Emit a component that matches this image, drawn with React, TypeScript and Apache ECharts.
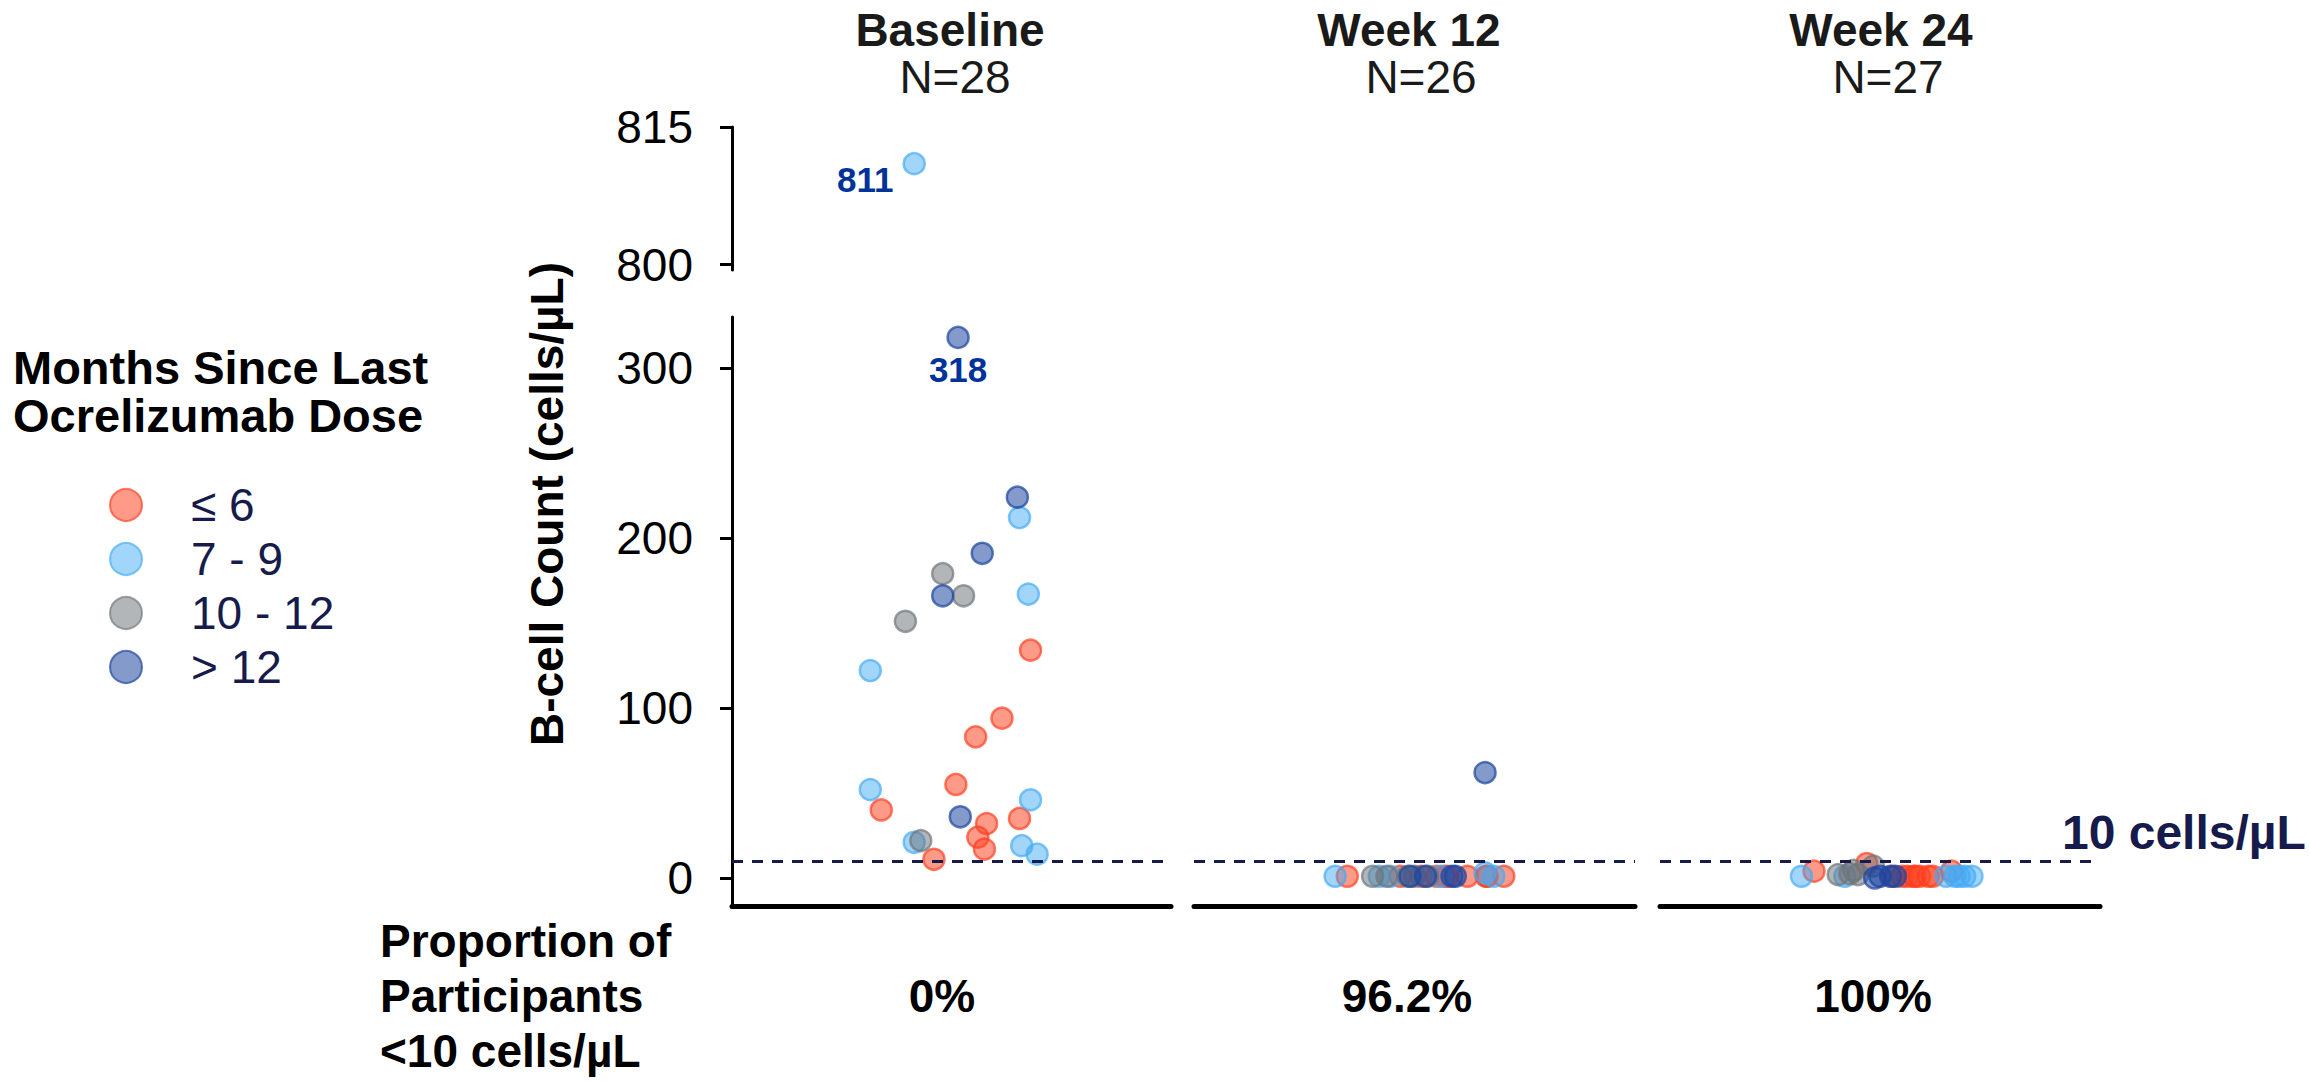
import React, { useEffect, useRef } from "react";
import * as echarts from "echarts";

// ---------- data ----------
const groupNames = ["≤ 6", "7 - 9", "10 - 12", "> 12"];
const timepoints = ["Baseline", "Week 12", "Week 24"];
const sampleSizes = ["N=28", "N=26", "N=27"];
const proportionsBelow10 = ["0%", "96.2%", "100%"];
const lowerTicks = [0, 100, 200, 300];
const upperTicks = [800, 815];
const thresholdValue = 10;
const labelledOutliers = [811, 318];

// [jitter within column, B-cell count, group index]
const baselinePoints: number[][] = [
  [-0.17, 811, 1], [0.03, 318, 3], [0.3, 224, 3], [0.31, 212, 1],
  [0.14, 191, 3], [-0.04, 179, 2], [-0.04, 166, 3], [0.055, 166, 2],
  [0.35, 167, 1], [-0.21, 151, 2], [0.36, 134, 0], [-0.37, 122, 1],
  [0.23, 94, 0], [0.11, 83, 0], [0.02, 55, 0], [-0.37, 52, 1],
  [0.36, 46, 1], [-0.32, 40, 0], [0.04, 36, 3], [0.16, 32, 0],
  [0.31, 35, 0], [0.12, 24, 0], [-0.17, 21, 1], [-0.14, 22, 2],
  [0.15, 17, 0], [0.32, 19, 1], [0.39, 14, 1], [-0.08, 11, 0],
];
const week12Points: number[][] = [
  [-0.36, 1, 1], [-0.305, 1, 0], [-0.19, 1, 2], [-0.16, 1, 1],
  [-0.125, 1, 2], [-0.11, 1, 1], [-0.065, 1, 0], [-0.03, 1, 2],
  [-0.02, 1, 3], [0.0, 1, 2], [0.03, 1, 0], [0.05, 1, 3],
  [0.06, 1, 2], [0.1, 1, 0], [0.12, 1, 1], [0.135, 1, 0],
  [0.15, 1, 0], [0.17, 1, 3], [0.185, 1, 3], [0.24, 1, 0],
  [0.32, 3, 1], [0.325, 1, 0], [0.33, 1, 0], [0.36, 1, 1],
  [0.405, 1, 0], [0.32, 62, 3],
];
const week24Points: number[][] = [
  [-0.357, 1, 1], [-0.3, 4, 0], [-0.19, 2, 2], [-0.16, 1, 1],
  [-0.137, 2.5, 2], [-0.12, 4.5, 2], [-0.1, 2, 2], [-0.06, 8.5, 0],
  [-0.03, 7, 2], [-0.024, 0, 3], [0.0, 1, 3], [0.048, 1, 3],
  [0.057, 1, 0], [0.07, 1, 3], [0.1, 1, 0], [0.125, 1, 0],
  [0.153, 1, 0], [0.16, 1, 0], [0.18, 1, 0], [0.22, 1, 0],
  [0.24, 1, 0], [0.3, 1, 1], [0.325, 4, 0], [0.34, 1, 1],
  [0.36, 1, 1], [0.385, 1, 1], [0.418, 1, 1],
];

// ---------- styles ----------
const FONT = "Liberation Sans, Arial, Helvetica, sans-serif";
const groupFill = [
  "rgba(255,69,38,0.68)",
  "rgba(66,170,245,0.62)",
  "rgba(110,117,122,0.66)",
  "rgba(30,70,160,0.68)",
];
const groupBorder = [
  "rgba(255,60,30,0.85)",
  "rgba(66,170,245,0.85)",
  "rgba(110,117,122,0.85)",
  "rgba(30,70,160,0.9)",
];
const NAVY = "#161b4c";
const LABEL_BLUE = "#00339a";

const panelGrids = [
  { left: 732, top: 127, width: 439, height: 143 },
  { left: 732, top: 317, width: 439, height: 589 },
  { left: 1194, top: 317, width: 441, height: 589 },
  { left: 1660, top: 317, width: 440, height: 589 },
];
const panelData = [
  { points: baselinePoints, keep: (v: number) => v >= 799 },
  { points: baselinePoints, keep: (v: number) => v < 330 },
  { points: week12Points, keep: (_v: number) => true },
  { points: week24Points, keep: (_v: number) => true },
];
const titleCenters = [950, 1409, 1881];
const nCenters = [955, 1421, 1888];
const pctCenters = [942, 1407, 1873];

function buildOption() {
  const series: any[] = [];
  panelData.forEach((panel, p) => {
    groupNames.forEach((name, k) => {
      const data = panel.points
        .filter((pt) => pt[2] === k && panel.keep(pt[1]))
        .map((pt) => {
          const item: any = { value: [pt[0], pt[1]] };
          if (labelledOutliers.includes(pt[1])) {
            const isLeft = pt[1] === labelledOutliers[0];
            item.label = {
              show: true,
              formatter: String(pt[1]),
              position: isLeft ? "left" : "bottom",
              distance: isLeft ? 9 : 3,
              offset: isLeft ? [0, 16] : [0, 0],
              color: LABEL_BLUE,
              opacity: 1,
              fontWeight: "bold",
              fontSize: 35,
              fontFamily: FONT,
            };
          }
          return item;
        });
      series.push({
        type: "scatter",
        name,
        xAxisIndex: p,
        yAxisIndex: p,
        symbol: "circle",
        symbolSize: 21,
        itemStyle: { color: groupFill[k], borderColor: groupBorder[k], borderWidth: 2.5 },
        emphasis: { disabled: true },
        data,
      });
    });
    if (p > 0) {
      series.push({
        type: "scatter",
        name: "threshold",
        xAxisIndex: p,
        yAxisIndex: p,
        data: [],
        z: 5,
        silent: true,
        markLine: {
          silent: true,
          symbol: ["none", "none"],
          label: { show: false },
          lineStyle: { color: NAVY, width: 3, type: [11, 9] },
          data: [{ yAxis: thresholdValue }],
        },
      });
    }
  });

  const xAxis = panelGrids.map((_, p) => ({
    type: "value",
    gridIndex: p,
    min: -1,
    max: 1,
    show: p > 0,
    axisLine: { show: true, onZero: false, lineStyle: { color: "#000", width: 5 } },
    axisTick: { show: false },
    axisLabel: { show: false },
    splitLine: { show: false },
  }));

  const axisCommon = {
    type: "value",
    axisLine: { show: true, onZero: false, lineStyle: { color: "#000", width: 3 } },
    splitLine: { show: false },
  };
  const yAxis = [
    {
      ...axisCommon,
      gridIndex: 0,
      min: 799.4,
      max: 815,
      axisTick: { show: true, length: 12, lineStyle: { width: 3, color: "#000" }, customValues: upperTicks },
      axisLabel: { show: true, customValues: upperTicks, fontSize: 46, color: "#000", fontFamily: FONT, margin: 39 },
    },
    {
      ...axisCommon,
      gridIndex: 1,
      min: -16.5,
      max: 330,
      axisTick: { show: true, length: 12, lineStyle: { width: 3, color: "#000" }, customValues: lowerTicks },
      axisLabel: { show: true, customValues: lowerTicks, fontSize: 46, color: "#000", fontFamily: FONT, margin: 39 },
    },
    { ...axisCommon, gridIndex: 2, min: -16.5, max: 330, show: false },
    { ...axisCommon, gridIndex: 3, min: -16.5, max: 330, show: false },
  ];

  const txt = (text: string, x: number, y: number, size: number, bold: boolean, fill: string, align = "center", rotation = 0) => ({
    type: "text",
    x,
    y,
    rotation,
    silent: true,
    style: {
      text,
      fill,
      fontSize: size,
      fontWeight: bold ? "bold" : "normal",
      fontFamily: FONT,
      align,
      verticalAlign: "middle",
    },
  });

  const graphic: any[] = [];
  timepoints.forEach((t, i) => {
    graphic.push(txt(t, titleCenters[i], 30, 46, true, "#1a1a1a"));
    graphic.push(txt(sampleSizes[i], nCenters[i], 77, 46, false, "#1a1a1a"));
    graphic.push(txt(proportionsBelow10[i], pctCenters[i], 996, 46, true, "#000"));
  });
  graphic.push(txt("B-cell Count (cells/µL)", 547, 504, 46, true, "#000", "center", Math.PI / 2));
  graphic.push(txt("Months Since Last", 13, 367, 47, true, "#000", "left"));
  graphic.push(txt("Ocrelizumab Dose", 13, 415, 47, true, "#000", "left"));
  graphic.push(txt("Proportion of", 380, 941, 46, true, "#000", "left"));
  graphic.push(txt("Participants", 380, 996, 46, true, "#000", "left"));
  graphic.push(txt("<10 cells/µL", 380, 1051, 46, true, "#000", "left"));
  graphic.push(txt("10 cells/µL", 2062, 832, 48, true, NAVY, "left"));

  return {
    animation: false,
    backgroundColor: "#fff",
    grid: panelGrids.map((g) => ({ ...g, containLabel: false })),
    xAxis,
    yAxis,
    legend: {
      data: groupNames,
      orient: "vertical",
      left: 109,
      top: 482,
      itemWidth: 32,
      itemHeight: 32,
      itemGap: 8,
      selectedMode: false,
      padding: 0,
      textStyle: { fontSize: 46, lineHeight: 46, color: NAVY, fontFamily: FONT, padding: [0, 0, 0, 44] },
    },
    graphic,
    series,
  };
}

export default function App() {
  const ref = useRef<HTMLDivElement>(null);
  useEffect(() => {
    document.body.style.margin = "0";
    if (!ref.current) return;
    const chart = echarts.init(ref.current, undefined, { renderer: "svg" });
    chart.setOption(buildOption() as any);
    return () => chart.dispose();
  }, []);
  return <div ref={ref} style={{ width: 2310, height: 1081 }} />;
}
